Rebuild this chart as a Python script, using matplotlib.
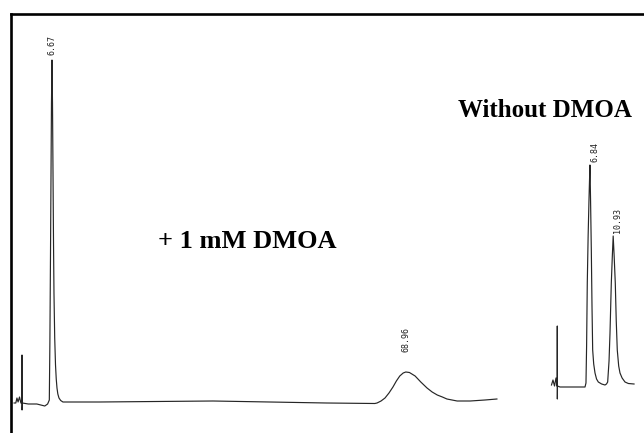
import matplotlib
matplotlib.use("Agg")
import matplotlib.pyplot as plt

# --- chromatogram with 1 mM DMOA (time in min, detector signal in mAU) ---
t_dmoa = [0.0, 0.3, 0.5, 0.7, 0.95, 1.2, 1.38, 1.39, 1.40, 1.45,
          2.5, 4.0, 5.4, 5.9, 6.2, 6.3, 6.41, 6.5, 6.58, 6.67,
          6.76, 6.85, 6.94, 7.02, 7.15, 7.29, 7.42, 7.55, 7.7, 7.9,
          8.2, 8.6, 15.0, 25.0, 35.0, 45.0, 55.0, 63.5,
          63.9, 64.6, 65.3, 66.0, 66.7, 67.3, 67.9, 68.5, 68.96, 69.6,
          70.6, 71.6, 72.7, 73.6, 74.5, 75.4, 76.2, 77.1, 78.0, 80.3,
          82.9, 85.0]
s_dmoa = [0, 0, 5, 1, 6, 0, 0, 48, -7, 0,
          -1, -1, -3, -1, 3, 60, 150, 230, 300, 343,
          300, 230, 160, 110, 65, 38, 24, 15, 9, 5,
          2.5, 1, 1, 1.5, 2, 1, 0, -0.5,
          0, 2, 5, 10, 16, 22, 27, 30, 31, 30.5,
          27, 21, 15, 11, 8, 6, 4, 3, 2, 2,
          3, 4]
peaks_dmoa = [6.67, 68.96]
heights_dmoa = [343, 31]

# --- chromatogram without DMOA ---
t_plain = [0.07, 0.33, 0.6, 0.86, 1.04, 1.08, 1.09, 1.10, 1.12, 1.57,
           5.97, 6.14, 6.25, 6.37, 6.52, 6.67, 6.76, 6.84, 6.95, 7.08,
           7.2, 7.32, 7.5, 7.73, 8.0, 8.31, 8.9, 9.49, 9.75,
           9.96, 10.2, 10.37, 10.6, 10.78, 10.93, 11.1, 11.3, 11.47, 11.65,
           11.9, 12.13, 12.5, 13.01, 13.6, 14.6]
s_plain = [1, 6, 0, 8, 0, 0, 60, -13, 0, -1,
           -1, 3, 40, 103, 150, 186, 205, 221, 185, 136,
           80, 36, 22, 13, 7, 4, 2, 1, 2,
           4, 25, 53, 103, 130, 150, 130, 103, 65, 36,
           20, 13, 8, 4, 2.5, 2]
peaks_plain = [6.84, 10.93]
heights_plain = [221, 150]

W, H = 644, 433
fig = plt.figure(figsize=(W / 100, H / 100), dpi=100)

# frame: left/top spines only, same pixel scale for both traces
left, top = 11, 14
pos = [left / W, 0, (W - left) / W, (H - top) / H]
px_per_min = 5.68


def trace_axes(x0, y0, frame):
    # x0: pixel column of t=0, y0: pixel row of the baseline
    ax = fig.add_axes(pos, facecolor="white" if frame else "none")
    ax.set_xlim((left - x0) / px_per_min, (W - x0) / px_per_min)
    ax.set_ylim(y0 - H, y0 - top)
    ax.set_xticks([])
    ax.set_yticks([])
    for side in ("right", "bottom"):
        ax.spines[side].set_visible(False)
    for side in ("left", "top"):
        ax.spines[side].set_visible(frame)
        ax.spines[side].set_linewidth(1.9)
    return ax


ax1 = trace_axes(14.1, 403, True)
ax2 = trace_axes(551.1, 386, False)

ax1.plot(t_dmoa, s_dmoa, color="#262626", lw=0.85)
ax2.plot(t_plain, s_plain, color="#262626", lw=0.85)

lab = dict(rotation=90, fontsize=6, family="DejaVu Sans Mono", color="#222222")
ax1.text(peaks_dmoa[0], heights_dmoa[0] + 5, f"{peaks_dmoa[0]:.2f}", ha="center", va="bottom", **lab)
ax1.text(peaks_dmoa[1], heights_dmoa[1] + 20, f"{peaks_dmoa[1]:.2f}", ha="center", va="bottom", **lab)
for t, h in zip(peaks_plain, heights_plain):
    ax2.text(t + 0.05, h + 3, f"{t:.2f}", ha="left", va="bottom", **lab)

title = dict(fontweight="bold", family="Liberation Serif", va="baseline")
fig.text(158 / W, 1 - 248 / H, "+ 1 mM DMOA", ha="left", fontsize=19, **title)
fig.text(632 / W, 1 - 117 / H, "Without DMOA", ha="right", fontsize=18, **title)

fig.savefig("out.png", dpi=100)
